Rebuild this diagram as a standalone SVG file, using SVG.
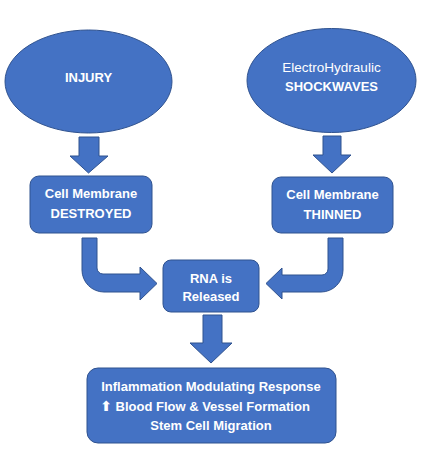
<svg xmlns="http://www.w3.org/2000/svg" width="427" height="462" viewBox="0 0 427 462">
<style>
.s{fill:#4472C4;stroke:#2F528F;stroke-width:1}
.t{fill:#FFFFFF;font-family:"Liberation Sans",Arial,sans-serif;font-size:13px;font-weight:bold;text-anchor:middle}
.r{font-weight:normal;font-size:13.5px}
</style>
<rect width="427" height="462" fill="#FFFFFF"/>
<g id="connectors">
<path class="s" d="M79,137 H99 V156 H108 L88.5,173 L70,156 H79 Z"/>
<path class="s" d="M323,136 H341 V155 H351 L332,173 L313,155 H323 Z"/>
<path class="s" d="M82,238 H97 V268 A6,6 0 0 0 103,274 H140 V267 L157,283.5 L140,300 V292 H104 A22,22 0 0 1 82,270 Z"/>
<path class="s" d="M343,238 H328 V269 A6,6 0 0 1 322,275 H282 V268 L266,283.5 L282,299 V292 H321 A22,22 0 0 0 343,270 Z"/>
<path class="s" d="M203,315 H222 V343 H232 L211,363 L190,343 H203 Z"/>
</g>
<g id="injury">
<ellipse class="s" cx="88.5" cy="81.5" rx="83.5" ry="51.5"/>
<text class="t" x="88.5" y="81.5">INJURY</text>
</g>
<g id="shockwaves">
<ellipse class="s" cx="331.5" cy="80.5" rx="84.5" ry="52"/>
<text class="t r" x="331.5" y="72">ElectroHydraulic</text>
<text class="t" x="331.5" y="90.5">SHOCKWAVES</text>
</g>
<g id="destroyed">
<rect class="s" x="30" y="176" width="122" height="57" rx="9"/>
<text class="t" x="91" y="197.5">Cell Membrane</text>
<text class="t" x="91" y="217.5">DESTROYED</text>
</g>
<g id="thinned">
<rect class="s" x="272" y="177" width="121" height="56" rx="9"/>
<text class="t" x="332.5" y="198.5">Cell Membrane</text>
<text class="t" x="332.5" y="218.5">THINNED</text>
</g>
<g id="rna">
<rect class="s" x="163" y="260" width="96" height="52" rx="8"/>
<text class="t" x="211" y="282.5">RNA is</text>
<text class="t" x="211" y="300.5">Released</text>
</g>
<g id="response">
<rect class="s" x="87" y="368" width="249" height="75" rx="11"/>
<text class="t" x="211" y="391">Inflammation Modulating Response</text>
<text class="t" x="205" y="411"><tspan style="font-family:'DejaVu Sans',sans-serif;font-size:14px">⬆</tspan> Blood Flow &amp; Vessel Formation</text>
<text class="t" x="211" y="430">Stem Cell Migration</text>
</g>
</svg>
